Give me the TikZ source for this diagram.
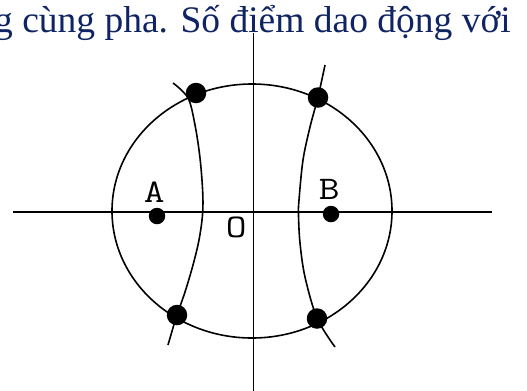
\documentclass[tikz,border=0pt]{standalone}
\usepackage{graphicx}
\usepackage{fontspec}
\setmainfont{Liberation Serif}
\definecolor{textblue}{RGB}{16,36,100}
\newcommand{\widelbl}[1]{\scalebox{1.22}[1]{#1}}
\begin{document}
\begin{tikzpicture}[x=1bp,y=-1bp,
  axisline/.style={line width=1.6bp,black},
  curveline/.style={line width=1.6bp,black},
  bigdot/.style={circle,fill=black,inner sep=0pt,minimum size=20.5bp},
  smalldot/.style={circle,fill=black,inner sep=0pt,minimum size=16.5bp},
  lbl/.style={font=\ttfamily\fontsize{33bp}{33bp}\selectfont,inner sep=0pt},
  headtext/.style={font=\fontsize{37.5bp}{40bp}\selectfont,text=textblue,inner sep=0pt}]
\useasboundingbox (0,0) rectangle (527,390);
\clip (0,0) rectangle (527,390);
% heading text
\node[headtext,anchor=base east] (head) at (511,32) {g cùng pha. Số điểm dao động với};
% axes
\coordinate (yt) at (253.5,33);
\coordinate (yb) at (253.5,392);
\coordinate (xl) at (13,212);
\coordinate (xr) at (492,212);
\draw[axisline] (yt) -- (yb);
\draw[axisline] (xl) -- (xr);
% ellipse
\coordinate (ctr) at (252,211);
\draw[curveline] (ctr) ellipse [x radius=140, y radius=127];
% left curve
\draw[curveline] plot[smooth,tension=0.55] coordinates
  {(173,83) (188,98) (195,125) (200,158) (202.7,192) (202.5,215) (199,240) (193,265) (185,292) (176,318) (168,345)};
% right curve
\draw[curveline] plot[smooth,tension=0.55] coordinates
  {(325,65) (318,97) (310,127) (303,160) (299,200) (298.5,215) (300,243) (305,277) (317,318) (335,347)};
% dots
\node[bigdot] (p1) at (196,93) {};
\node[bigdot] (p2) at (318,97.5) {};
\node[bigdot] (p3) at (177,315) {};
\node[bigdot] (p4) at (317,318.5) {};
\node[smalldot] (a) at (157,216) {};
\node[smalldot] (b) at (331,214) {};
% labels
\node[lbl] (la) at (154.3,192) {\widelbl{A}};
\node[lbl] (lb) at (329.3,189.5) {\widelbl{B}};
\node[lbl] (lo) at (236.3,227) {\widelbl{O}};
\end{tikzpicture}
\end{document}
